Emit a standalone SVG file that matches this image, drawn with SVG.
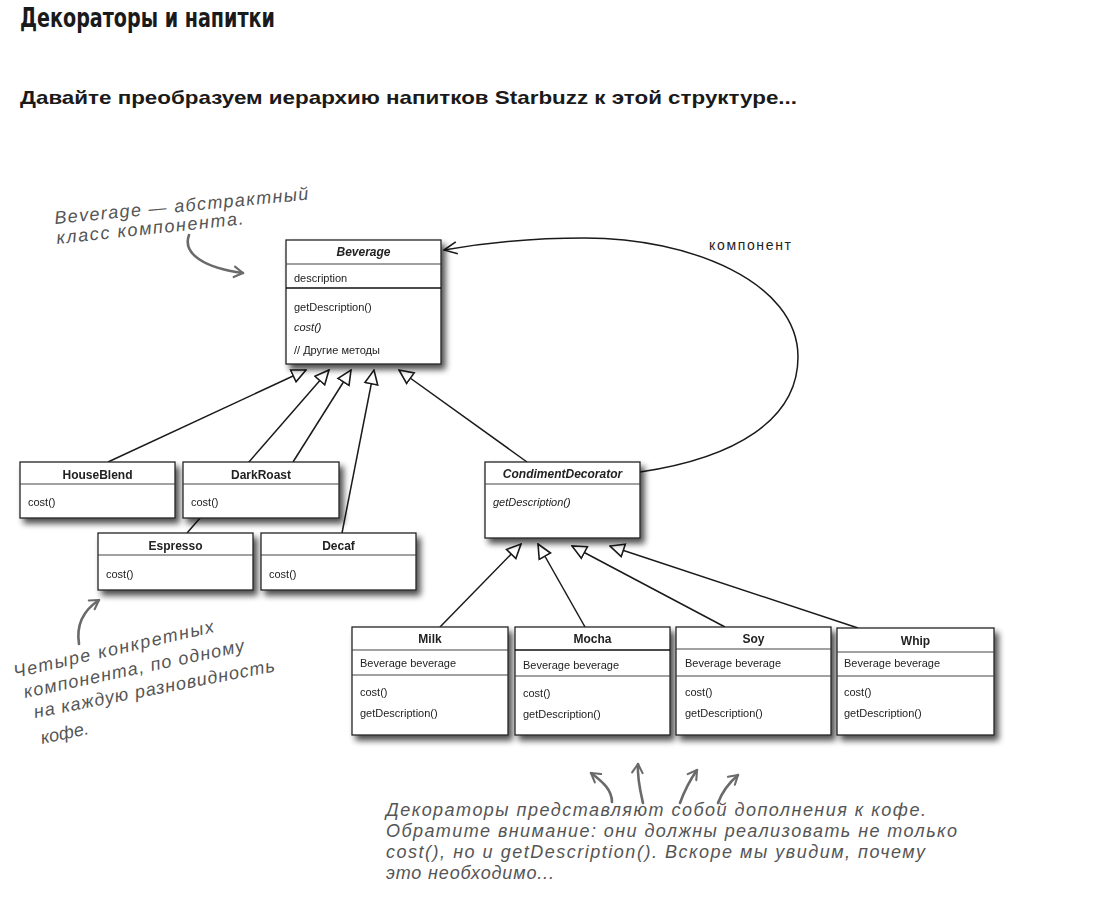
<svg xmlns="http://www.w3.org/2000/svg" width="1098" height="917" viewBox="0 0 1098 917">
<defs>
<style>
.box{fill:#fff;stroke:#222;stroke-width:1.3}
.sep{stroke:#444;stroke-width:1.2}
.sepd{stroke:#111;stroke-width:1.3}
.t{font-family:"Liberation Sans",Arial,sans-serif;font-size:11px;fill:#222}
.h{font-family:"Liberation Sans",Arial,sans-serif;font-size:12px;font-weight:bold;fill:#222;text-anchor:middle}
.i{font-style:italic}
.conn{fill:none;stroke:#1a1a1a;stroke-width:1.5}
.hand{font-family:"Liberation Sans",Arial,sans-serif;font-style:italic;font-size:18px;fill:#555}
.harrow{fill:none;stroke:#6a6a6a;stroke-width:2.6;stroke-linecap:round}
</style>
<filter id="sh" x="-10%" y="-10%" width="130%" height="140%">
<feGaussianBlur in="SourceAlpha" stdDeviation="3"/>
<feOffset dx="4" dy="5" result="b"/>
<feComponentTransfer><feFuncA type="linear" slope="0.7"/></feComponentTransfer>
<feMerge><feMergeNode/><feMergeNode in="SourceGraphic"/></feMerge>
</filter>
<marker id="tri" viewBox="0 0 16 16" refX="15" refY="8" markerWidth="16" markerHeight="16" markerUnits="userSpaceOnUse" orient="auto">
<path d="M1,1.5 L15,8 L1,14.5 z" fill="#fff" stroke="#1a1a1a" stroke-width="1.6" stroke-linejoin="miter"/>
</marker>
<marker id="vee" viewBox="0 0 16 16" refX="15" refY="8" markerWidth="16" markerHeight="16" markerUnits="userSpaceOnUse" orient="auto">
<path d="M2,2 L15,8 L2,14" fill="none" stroke="#1a1a1a" stroke-width="1.6"/>
</marker>
<marker id="hv" viewBox="0 0 16 16" refX="13" refY="8" markerWidth="14" markerHeight="14" markerUnits="userSpaceOnUse" orient="auto">
<path d="M3,2 L13,8 L3,14" fill="none" stroke="#6a6a6a" stroke-width="2.4" stroke-linecap="round" stroke-linejoin="round"/>
</marker>
</defs>
<rect width="1098" height="917" fill="#fff"/>

<text x="20" y="27" font-family="'DejaVu Sans Condensed','DejaVu Sans',sans-serif" font-weight="bold" font-size="26" fill="#1a1a1a" textLength="255" lengthAdjust="spacingAndGlyphs">Декораторы и напитки</text>
<text x="20" y="104" font-family="'Liberation Sans',Arial,sans-serif" font-weight="bold" font-size="19" fill="#1a1a1a" textLength="777" lengthAdjust="spacingAndGlyphs">Давайте преобразуем иерархию напитков Starbuzz к этой структуре...</text>

<g id="connectors">
<line class="conn" x1="108" y1="462" x2="306" y2="370" marker-end="url(#tri)"/>
<line class="conn" x1="187" y1="533" x2="329" y2="370" marker-end="url(#tri)"/>
<line class="conn" x1="293" y1="462" x2="351" y2="370" marker-end="url(#tri)"/>
<line class="conn" x1="342" y1="533" x2="374" y2="370" marker-end="url(#tri)"/>
<line class="conn" x1="527" y1="462" x2="399" y2="370" marker-end="url(#tri)"/>
<line class="conn" x1="440" y1="627" x2="521" y2="544" marker-end="url(#tri)"/>
<line class="conn" x1="585" y1="627" x2="538" y2="544" marker-end="url(#tri)"/>
<line class="conn" x1="725" y1="627" x2="572" y2="546" marker-end="url(#tri)"/>
<line class="conn" x1="858" y1="628" x2="610" y2="546" marker-end="url(#tri)"/>
<path class="conn" d="M640,472 C735,458 798,420 798,357 C798,282 690,238 585,238 C525,238 478,244 444,250" stroke-width="2" marker-end="url(#vee)"/>
<text x="709" y="250" font-family="'Liberation Sans',Arial,sans-serif" font-size="14" fill="#222" textLength="82">компонент</text>
</g>

<g id="beverage" filter="url(#sh)">
<rect class="box" x="286" y="240" width="155" height="124"/>
<line class="sep" x1="286" y1="264" x2="441" y2="264"/>
<line class="sepd" x1="286" y1="288" x2="441" y2="288"/>
<text class="h i" x="363.5" y="256">Beverage</text>
<text class="t" x="294" y="282">description</text>
<text class="t" x="294" y="311">getDescription()</text>
<text class="t i" x="294" y="331">cost()</text>
<text class="t" x="294" y="354">// Другие методы</text>
</g>

<g id="houseblend" filter="url(#sh)">
<rect class="box" x="20" y="462" width="155" height="56"/>
<line class="sep" x1="20" y1="484" x2="175" y2="484"/>
<text class="h" x="97.5" y="479">HouseBlend</text>
<text class="t" x="28" y="506">cost()</text>
</g>
<g id="darkroast" filter="url(#sh)">
<rect class="box" x="183" y="462" width="156" height="56"/>
<line class="sep" x1="183" y1="484" x2="339" y2="484"/>
<text class="h" x="261" y="479">DarkRoast</text>
<text class="t" x="191" y="506">cost()</text>
</g>
<g id="espresso" filter="url(#sh)">
<rect class="box" x="98" y="533" width="155" height="57"/>
<line class="sep" x1="98" y1="555" x2="253" y2="555"/>
<text class="h" x="175.5" y="550">Espresso</text>
<text class="t" x="106" y="578">cost()</text>
</g>
<g id="decaf" filter="url(#sh)">
<rect class="box" x="261" y="533" width="155" height="57"/>
<line class="sep" x1="261" y1="555" x2="416" y2="555"/>
<text class="h" x="338.5" y="550">Decaf</text>
<text class="t" x="269" y="578">cost()</text>
</g>

<g id="condimentdecorator" filter="url(#sh)">
<rect class="box" x="485" y="462" width="155" height="76"/>
<line class="sep" x1="485" y1="484" x2="640" y2="484"/>
<text class="h i" x="562.5" y="478">CondimentDecorator</text>
<text class="t i" x="493" y="506">getDescription()</text>
</g>

<g id="milk" filter="url(#sh)">
<rect class="box" x="352" y="627" width="156" height="108"/>
<line class="sep" x1="352" y1="650" x2="508" y2="650"/>
<line class="sep" x1="352" y1="675" x2="508" y2="675"/>
<text class="h" x="430" y="643">Milk</text>
<text class="t" x="360" y="667">Beverage beverage</text>
<text class="t" x="360" y="696">cost()</text>
<text class="t" x="360" y="717">getDescription()</text>
</g>
<g id="mocha" filter="url(#sh)">
<rect class="box" x="515" y="627" width="155" height="108"/>
<line class="sepd" x1="515" y1="650" x2="670" y2="650"/>
<line class="sep" x1="515" y1="676" x2="670" y2="676"/>
<text class="h" x="592.5" y="643">Mocha</text>
<text class="t" x="523" y="669">Beverage beverage</text>
<text class="t" x="523" y="697">cost()</text>
<text class="t" x="523" y="718">getDescription()</text>
</g>
<g id="soy" filter="url(#sh)">
<rect class="box" x="676" y="627" width="155" height="108"/>
<line class="sep" x1="676" y1="649" x2="831" y2="649"/>
<line class="sep" x1="676" y1="676" x2="831" y2="676"/>
<text class="h" x="753.5" y="643">Soy</text>
<text class="t" x="685" y="667">Beverage beverage</text>
<text class="t" x="685" y="696">cost()</text>
<text class="t" x="685" y="717">getDescription()</text>
</g>
<g id="whip" filter="url(#sh)">
<rect class="box" x="837" y="628" width="157" height="107"/>
<line class="sep" x1="837" y1="652" x2="994" y2="652"/>
<line class="sep" x1="837" y1="676" x2="994" y2="676"/>
<text class="h" x="915.5" y="645">Whip</text>
<text class="t" x="844" y="667">Beverage beverage</text>
<text class="t" x="844" y="696">cost()</text>
<text class="t" x="844" y="717">getDescription()</text>
</g>

<g id="note-beverage">
<text class="hand" transform="translate(55,224) rotate(-5.5)" textLength="255">Beverage — абстрактный</text>
<text class="hand" transform="translate(57,244) rotate(-6)" textLength="188">класс компонента.</text>
<path class="harrow" d="M189,235 C182,254 205,268 243,273" marker-end="url(#hv)"/>
</g>

<g id="note-concrete">
<text class="hand" transform="translate(15,678) rotate(-13)" textLength="205">Четыре конкретных</text>
<text class="hand" transform="translate(25,698) rotate(-12)" textLength="225">компонента, по одному</text>
<text class="hand" transform="translate(35,718) rotate(-11)" textLength="245">на каждую разновидность</text>
<text class="hand" transform="translate(42,744) rotate(-12)">кофе.</text>
<path class="harrow" d="M79,644 C76,625 84,610 99,600" marker-end="url(#hv)"/>
</g>

<g id="note-decorators">
<path class="harrow" d="M612,802 C612,790 603,782 591,773" marker-end="url(#hv)"/>
<path class="harrow" d="M643,803 C640,790 637,778 638,764" marker-end="url(#hv)"/>
<path class="harrow" d="M680,803 C684,792 690,780 697,770" marker-end="url(#hv)"/>
<path class="harrow" d="M718,803 C722,792 730,782 738,775" marker-end="url(#hv)"/>
<text class="hand" x="386" y="816" textLength="540">Декораторы представляют собой дополнения к кофе.</text>
<text class="hand" x="386" y="837" textLength="571">Обратите внимание: они должны реализовать не только</text>
<text class="hand" x="386" y="858" textLength="539">cost(), но и getDescription(). Вскоре мы увидим, почему</text>
<text class="hand" x="386" y="879" textLength="168">это необходимо...</text>
</g>
</svg>
